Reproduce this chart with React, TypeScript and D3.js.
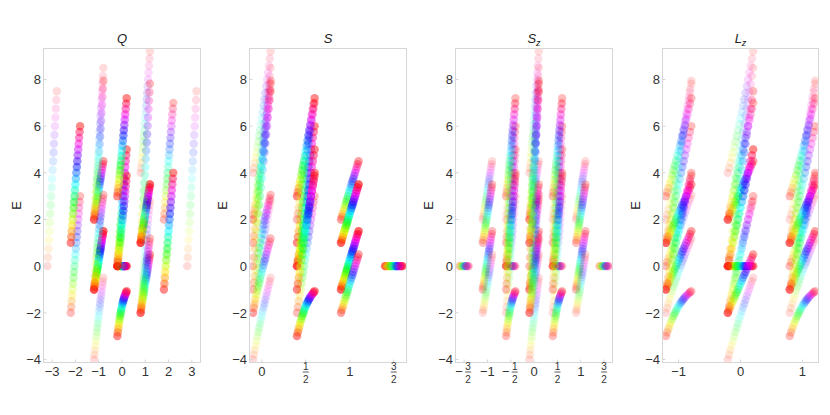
import React from "react";
import * as d3 from "d3";

// Energy ladders (21 points each, first to last)
const E_Qm3 = [0,0.375,0.75,1.125,1.5,1.875,2.25,2.625,3,3.375,3.75,4.125,4.5,4.875,5.25,5.625,6,6.375,6.75,7.125,7.5];
const E_m2_3 = [-2,-1.75,-1.5,-1.25,-1,-0.75,-0.5,-0.25,0,0.25,0.5,0.75,1,1.25,1.5,1.75,2,2.25,2.5,2.75,3];
const E_1_6 = [1,1.25,1.5,1.75,2,2.25,2.5,2.75,3,3.25,3.5,3.75,4,4.25,4.5,4.75,5,5.25,5.5,5.75,6];
const E_2_7 = [2,2.25,2.5,2.75,3,3.25,3.5,3.75,4,4.25,4.5,4.75,5,5.25,5.5,5.75,6,6.25,6.5,6.75,7];
const E_m1_4 = [-1,-0.75,-0.5,-0.25,0,0.25,0.5,0.75,1,1.25,1.5,1.75,2,2.25,2.5,2.75,3,3.25,3.5,3.75,4];
const E_0_5 = [0,0.25,0.5,0.75,1,1.25,1.5,1.75,2,2.25,2.5,2.75,3,3.25,3.5,3.75,4,4.25,4.5,4.75,5];
const E_m1_15 = [-1,-0.875,-0.75,-0.625,-0.5,-0.375,-0.25,-0.125,0,0.125,0.25,0.375,0.5,0.625,0.75,0.875,1,1.125,1.25,1.375,1.5];
const E_2_45 = [2,2.125,2.25,2.375,2.5,2.625,2.75,2.875,3,3.125,3.25,3.375,3.5,3.625,3.75,3.875,4,4.125,4.25,4.375,4.5];
const E_1_35 = [1,1.125,1.25,1.375,1.5,1.625,1.75,1.875,2,2.125,2.25,2.375,2.5,2.625,2.75,2.875,3,3.125,3.25,3.375,3.5];
const E_m2_05 = [-2,-1.875,-1.75,-1.625,-1.5,-1.375,-1.25,-1.125,-1,-0.875,-0.75,-0.625,-0.5,-0.375,-0.25,-0.125,0,0.125,0.25,0.375,0.5];
const E_flat = [0,0,0,0,0,0,0,0,0,0,0,0,0,0,0,0,0,0,0,0,0];
const E_m4 = [-4,-3.794,-3.592,-3.395,-3.202,-3.012,-2.826,-2.643,-2.464,-2.288,-2.114,-1.943,-1.775,-1.609,-1.445,-1.283,-1.123,-0.965,-0.808,-0.653,-0.5];
const E_2_85 = [2,2.294,2.592,2.895,3.202,3.512,3.826,4.143,4.464,4.788,5.114,5.443,5.775,6.109,6.445,6.783,7.123,7.465,7.808,8.153,8.5];
const E_m1_3 = [-1,-0.713,-0.436,-0.17,0.086,0.33,0.564,0.787,1,1.204,1.399,1.587,1.768,1.943,2.113,2.278,2.438,2.596,2.75,2.902,3.051];
const E_2_795 = [2,2.213,2.436,2.67,2.914,3.17,3.436,3.713,4,4.296,4.601,4.913,5.232,5.557,5.888,6.222,6.562,6.904,7.25,7.599,7.949];
const E_m2_28 = [-2,-1.711,-1.426,-1.147,-0.872,-0.603,-0.339,-0.081,0.172,0.419,0.661,0.897,1.128,1.354,1.574,1.789,2,2.206,2.408,2.605,2.798];
const E_4_92 = [4,4.211,4.426,4.647,4.872,5.103,5.339,5.581,5.828,6.081,6.339,6.603,6.872,7.147,7.426,7.711,8,8.294,8.592,8.895,9.202];
const E_m2_12 = [-2,-1.796,-1.601,-1.413,-1.232,-1.057,-0.888,-0.722,-0.562,-0.404,-0.25,-0.098,0.051,0.197,0.342,0.486,0.628,0.768,0.908,1.046,1.183];
const E_1_78 = [1,1.296,1.601,1.913,2.232,2.557,2.888,3.222,3.562,3.904,4.25,4.598,4.949,5.303,5.658,6.014,6.372,6.732,7.092,7.454,7.817];
const E_m3 = [-3,-2.837,-2.681,-2.533,-2.392,-2.26,-2.135,-2.018,-1.91,-1.808,-1.713,-1.626,-1.545,-1.469,-1.4,-1.335,-1.275,-1.22,-1.168,-1.12,-1.075];
const E_0_39 = [0,0.167,0.334,0.503,0.675,0.849,1.026,1.206,1.391,1.579,1.771,1.967,2.167,2.37,2.577,2.787,3,3.216,3.434,3.654,3.877];
const E_3_72 = [3,3.17,3.347,3.529,3.718,3.911,4.11,4.312,4.519,4.729,4.942,5.159,5.378,5.599,5.822,6.048,6.275,6.504,6.734,6.966,7.199];

// Multiplets: charge, spin, orbital momenta, energies
const PLUS_MINUS = [-1, 1];
const ZERO = [0];
const multiplets: [number, number, number[], number[]][] = [
  [-3, 0, ZERO, E_Qm3],
  [-2, 0.5, ZERO, E_m2_3],
  [-2, 0.5, PLUS_MINUS, E_1_6],
  [-1, 1, PLUS_MINUS, E_m1_15],
  [-1, 1, ZERO, E_2_45],
  [-1, 0, ZERO, E_m4],
  [-1, 0, ZERO, E_2_85],
  [-1, 0, PLUS_MINUS, E_m1_3],
  [-1, 0, PLUS_MINUS, E_2_795],
  [0, 1.5, ZERO, E_flat],
  [0, 0.5, ZERO, E_0_5],
  [0, 0.5, ZERO, E_0_5],
  [0, 0.5, PLUS_MINUS, E_m3],
  [0, 0.5, PLUS_MINUS, E_0_39],
  [0, 0.5, PLUS_MINUS, E_3_72],
  [1, 1, PLUS_MINUS, E_1_35],
  [1, 1, ZERO, E_m2_05],
  [1, 0, ZERO, E_m2_28],
  [1, 0, ZERO, E_4_92],
  [1, 0, PLUS_MINUS, E_m2_12],
  [1, 0, PLUS_MINUS, E_1_78],
  [2, 0.5, ZERO, E_2_7],
  [2, 0.5, PLUS_MINUS, E_m1_4],
  [3, 0, ZERO, E_Qm3],
];

type State = { Q: number; S: number; Sz: number; Lz: number; E: number[] };
const states: State[] = [];
multiplets.forEach(([Q, S, lzs, E]) => {
  lzs.forEach((Lz) => {
    for (let Sz = -S; Sz <= S; Sz += 1) states.push({ Q, S, Sz, Lz, E });
  });
});

const eTicks = [-4, -2, 0, 2, 4, 6, 8];
const Q_TICKS = [-3, -2, -1, 0, 1, 2, 3];
const S_TICKS = [0, 0.5, 1, 1.5];
const SZ_TICKS = [-1.5, -1, -0.5, 0, 0.5, 1, 1.5];
const LZ_TICKS = [-1, 0, 1];

type Panel = {
  key: "Q" | "S" | "Sz" | "Lz";
  title: string;
  sub?: string;
  left: number;
  right: number;
  domain: [number, number];
  ticks: number[];
  jitter: number;
};
const panels: Panel[] = [
  { key: "Q", title: "Q", left: 43.5, right: 200.5, domain: [-3.37, 3.37], ticks: Q_TICKS, jitter: 0.2 },
  { key: "S", title: "S", left: 249.5, right: 406.5, domain: [-0.14, 1.645], ticks: S_TICKS, jitter: 0.1 },
  { key: "Sz", title: "S", sub: "z", left: 455.5, right: 612.5, domain: [-1.685, 1.68], ticks: SZ_TICKS, jitter: 0.1 },
  { key: "Lz", title: "L", sub: "z", left: 662.5, right: 818.5, domain: [-1.26, 1.26], ticks: LZ_TICKS, jitter: 0.205 },
];

const TOP = 48.5;
const BOTTOM = 362.5;
const FRAME = "#d6d6d6";
const TEXT = "#333333";
const FONT = "'Liberation Sans', Arial, sans-serif";
const POINT_R = 4.2;
const POINT_ALPHA = 0.14;

const yScale = d3.scaleLinear().domain([-4.13, 9.33]).range([BOTTOM, TOP]);

function XTick({ v, x }: { v: number; x: number }) {
  const a = Math.abs(v);
  const isHalf = a % 1 !== 0;
  const y = BOTTOM + 13;
  if (!isHalf) {
    return (
      <text x={x} y={y} textAnchor="middle" fontSize={13} fill={TEXT}>
        {v < 0 ? `\u2212${a}` : `${a}`}
      </text>
    );
  }
  const num = Math.round(a * 2);
  const offset = v < 0 ? 4 : 0;
  return (
    <g>
      {v < 0 && (
        <text x={x - 5} y={y} textAnchor="middle" fontSize={13} fill={TEXT}>
          {"\u2212"}
        </text>
      )}
      <text x={x + offset} y={BOTTOM + 7.7} textAnchor="middle" fontSize={10} fill={TEXT}>
        {num}
      </text>
      <line x1={x + offset - 3} x2={x + offset + 3} y1={BOTTOM + 9.5} y2={BOTTOM + 9.5} stroke={TEXT} strokeWidth={0.8} />
      <text x={x + offset} y={BOTTOM + 20} textAnchor="middle" fontSize={10} fill={TEXT}>
        2
      </text>
    </g>
  );
}

function PanelView({ p, idx }: { p: Panel; idx: number }) {
  const x = d3.scaleLinear().domain(p.domain).range([p.left, p.right]);
  const cx = (p.left + p.right) / 2;
  return (
    <g fontFamily={FONT}>
      <defs>
        <clipPath id={`clip${idx}`}>
          <rect x={p.left} y={TOP} width={p.right - p.left} height={BOTTOM - TOP} />
        </clipPath>
      </defs>
      <text x={cx} y={43} textAnchor="middle" fontSize={13} fill="#222">
        <tspan fontStyle="italic">{p.title}</tspan>
        {p.sub && (
          <tspan fontStyle="italic" fontSize={9} dy={3}>
            {p.sub}
          </tspan>
        )}
      </text>
      <g clipPath={`url(#clip${idx})`}>
        {states.map((st, i) =>
          st.E.map((e, k) => {
            const t = k / (st.E.length - 1);
            return (
              <circle
                key={`${i}-${k}`}
                cx={x(st[p.key]) + p.jitter * (2 * t - 1) * (x(1) - x(0))}
                cy={yScale(e)}
                r={POINT_R}
                fill={d3.hsl(360 * t, 1, 0.5).formatRgb()}
                fillOpacity={POINT_ALPHA}
              />
            );
          })
        )}
      </g>
      <rect x={p.left} y={TOP} width={p.right - p.left} height={BOTTOM - TOP} fill="none" stroke={FRAME} strokeWidth={1} />
      {eTicks.map((v) => (
        <g key={v}>
          <line x1={p.left} x2={p.left + 3} y1={yScale(v)} y2={yScale(v)} stroke={FRAME} />
          <text x={p.left - 2.5} y={yScale(v) + 4.7} textAnchor="end" fontSize={13} fill={TEXT}>
            {v < 0 ? `\u2212${-v}` : v}
          </text>
        </g>
      ))}
      {p.ticks.map((v) => (
        <g key={v}>
          <line x1={x(v)} x2={x(v)} y1={BOTTOM} y2={BOTTOM - 3} stroke={FRAME} />
          <XTick v={v} x={x(v)} />
        </g>
      ))}
      <text
        transform={`translate(${p.left - 22.5},205.5) rotate(-90)`}
        textAnchor="middle"
        fontSize={13}
        fill="#222"
      >
        E
      </text>
    </g>
  );
}

export default function App() {
  return (
    <svg width={830} height={415} style={{ position: "absolute", left: 0, top: 0, background: "#fff" }}>
      {panels.map((p, i) => (
        <PanelView key={p.key} p={p} idx={i} />
      ))}
    </svg>
  );
}
